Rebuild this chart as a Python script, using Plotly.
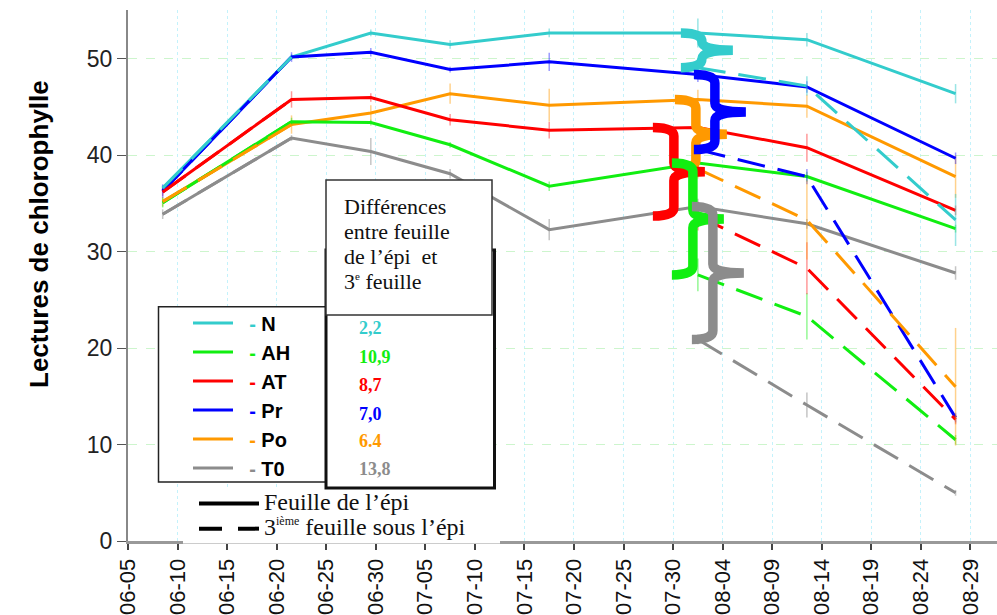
import plotly.graph_objects as go
from datetime import datetime, timedelta

# ---------------- data ----------------
dates = ["2010-06-09", "2010-06-22", "2010-06-30", "2010-07-08",
         "2010-07-18", "2010-08-02", "2010-08-13", "2010-08-28"]
series_names = ["N", "AH", "AT", "Pr", "Po", "T0"]

# Feuille de l'épi (solid)
ear_N = [36.6, 50.2, 52.7, 51.5, 52.7, 52.7, 52.0, 46.4]
ear_AH = [35.1, 43.5, 43.4, 41.1, 36.8, 39.2, 37.8, 32.4]
ear_AT = [36.2, 45.8, 46.0, 43.7, 42.6, 42.9, 40.8, 34.3]
ear_Pr = [36.3, 50.2, 50.7, 48.9, 49.7, 48.4, 47.1, 39.7]
ear_Po = [35.2, 43.2, 44.4, 46.4, 45.2, 45.8, 45.1, 37.8]
ear_T0 = [33.9, 41.8, 40.4, 38.1, 32.3, 34.7, 32.9, 27.8]

# 3ième feuille sous l'épi (dashed)
third_N = [36.6, 50.2, None, None, None, 49.1, 47.2, 33.3]
third_AH = [35.1, 43.5, None, None, None, 27.6, 23.3, 10.5]
third_AT = [36.2, 45.8, None, None, None, 33.7, 28.3, 12.6]
third_Pr = [36.3, 50.2, None, None, None, 40.6, 37.8, 12.8]
third_Po = [35.2, 43.2, None, None, None, 38.6, 33.3, 16.0]
third_T0 = [33.9, 41.8, None, None, None, 20.9, 14.1, 5.0]

# error bars (half-length)
err_ear_N = [0.3, 0.3, 0.35, 0.45, 0.45, 1.5, 0.7, 1.0]
err_ear_AH = [0.5, 0.4, 0.3, 0.3, 0.5, 0.8, 0.5, 0.4]
err_ear_AT = [0.4, 0.85, 0.45, 0.6, 0.85, 0.8, 1.45, 0.5]
err_ear_Pr = [0.7, 0.5, 0.45, 0.3, 0.95, 0.8, 0.6, 0.6]
err_ear_Po = [0.5, 0.95, 0.8, 1.05, 1.7, 1.0, 1.2, 2.2]
err_ear_T0 = [0.5, 0.3, 1.4, 0.5, 1.1, 0.8, 0.5, 0.7]

err_third_N = [0, 0, 0, 0, 0, 1.0, 1.0, 2.7]
err_third_AH = [0, 0, 0, 0, 0, 1.7, 2.4, 0.5]
err_third_AT = [0, 0, 0, 0, 0, 1.5, 2.7, 0.5]
err_third_Pr = [0, 0, 0, 0, 0, 0.8, 0.8, 0.5]
err_third_Po = [0, 0, 0, 0, 0, 1.0, 4.1, 6.1]
err_third_T0 = [0, 0, 0, 0, 0, 0.5, 1.3, 0.3]

diff_labels = ["2,2", "10,9", "8,7", "7,0", "6.4", "13,8"]
box_lines = ["Différences", "entre feuille", "de l\u2019épi\u00a0 et",
             "3<sup><span style='font-size:11px'>e</span></sup> feuille"]

# ---------------- styling ----------------
colors = {"N": "#33CCCC", "AH": "#11EE11", "AT": "#FF0000",
          "Pr": "#0000FF", "Po": "#FF9900", "T0": "#8C8C8C"}
err_colors = {"N": "rgba(51,204,204,0.5)", "AH": "rgba(17,238,17,0.45)",
              "AT": "rgba(255,0,0,0.4)", "Pr": "rgba(0,0,255,0.4)",
              "Po": "rgba(255,153,0,0.45)", "T0": "rgba(140,140,140,0.5)"}

ear = {"N": ear_N, "AH": ear_AH, "AT": ear_AT, "Pr": ear_Pr, "Po": ear_Po, "T0": ear_T0}
third = {"N": third_N, "AH": third_AH, "AT": third_AT, "Pr": third_Pr, "Po": third_Po, "T0": third_T0}
err_ear = {"N": err_ear_N, "AH": err_ear_AH, "AT": err_ear_AT, "Pr": err_ear_Pr, "Po": err_ear_Po, "T0": err_ear_T0}
err_third = {"N": err_third_N, "AH": err_third_AH, "AT": err_third_AT, "Pr": err_third_Pr,
             "Po": err_third_Po, "T0": err_third_T0}

W, H = 997, 615
ML, MR, MT, MB = 128, 0, 10, 74
PW, PH = W - ML - MR, H - MT - MB


def px2x(px):
    return (px - ML) / PW


def py2y(py):
    return (H - MB - py) / PH


fig = go.Figure()

solid_order = ["N", "Po", "AT", "Pr", "AH", "T0"]
for s in solid_order:
    fig.add_trace(go.Scatter(
        x=dates, y=ear[s], mode="lines",
        line=dict(color=colors[s], width=3),
        error_y=dict(type="data", array=err_ear[s], visible=True,
                     color=err_colors[s], thickness=1.5, width=0),
        name=("\u00a0\u00a0<span style='color:%s'><b>-</b></span> <b>%s</b>" % (colors[s], s)),
        legend="legend", legendrank=series_names.index(s) + 1,
    ))

dash_order = ["Pr", "AH", "AT", "T0", "N", "Po"]
for s in dash_order:
    fig.add_trace(go.Scatter(
        x=dates, y=third[s], mode="lines", connectgaps=False,
        line=dict(color=colors[s], width=3, dash="28px,13px"),
        error_y=dict(type="data", array=err_third[s], visible=True,
                     color=err_colors[s], thickness=1.5, width=0),
        showlegend=False,
    ))

# line-style legend (legend2)
fig.add_trace(go.Scatter(x=[None], y=[None], mode="lines",
                         line=dict(color="black", width=4),
                         name="<span style='font-size:24px'>Feuille de l\u2019épi</span>",
                         legend="legend2"))
fig.add_trace(go.Scatter(x=[None], y=[None], mode="lines",
                         line=dict(color="black", width=4, dash="23px,16px"),
                         name=("<span style='font-size:24px'>3<sup><span style='font-size:12px'>ième</span>"
                               "</sup> feuille sous l\u2019épi</span>"),
                         legend="legend2"))

shapes = []
# braces between ear leaf and 3rd leaf at 2nd August
brace_order = ["N", "Po", "Pr", "AT", "AH", "T0"]
brace_dx = {"N": 4, "Po": -2, "Pr": 17, "AT": -24, "AH": -5, "T0": 15}
hook, tip, rr = 21, 31, 0.9
for s in brace_order:
    top = ear[s][5]
    bot = third[s][5]
    m = (top + bot) / 2
    dx = brace_dx[s]
    path = (f"M{dx - hook},{top} Q{dx},{top} {dx},{top - rr} L{dx},{m + rr} "
            f"Q{dx},{m} {dx + tip},{m} Q{dx},{m} {dx},{m - rr} L{dx},{bot + rr} "
            f"Q{dx},{bot} {dx - hook},{bot}")
    shapes.append(dict(type="path", xref="x", yref="y", xsizemode="pixel",
                       xanchor=dates[5], path=path, layer="above",
                       line=dict(color=colors[s], width=9.5)))


def rect(x0, y0, x1, y1, lw, lc="black"):
    return dict(type="rect", xref="paper", yref="paper", layer="above",
                x0=px2x(x0), x1=px2x(x1), y0=py2y(y1), y1=py2y(y0),
                fillcolor="white", line=dict(color=lc, width=lw))


shapes.append(rect(183, 490, 500, 543.5, 0, "white"))
shapes.append(rect(158.5, 306.7, 326, 482, 1.5, "#222"))
shapes.append(rect(326, 250, 494.5, 488, 3, "#111"))
shapes.append(rect(326, 180, 492, 315, 1.5, "#333"))

annotations = []
line_y = [206.5, 231.5, 256.5, 281.5]
for txt, ly in zip(box_lines, line_y):
    annotations.append(dict(
        xref="paper", yref="paper", x=px2x(342), y=py2y(ly), xanchor="left", yanchor="middle",
        align="left", showarrow=False, text=txt,
        font=dict(family="Liberation Serif", size=22, color="#111")))
value_y = [328, 357, 385, 413.5, 441.5, 468.5]
for s, lab, vy in zip(series_names, diff_labels, value_y):
    annotations.append(dict(
        xref="paper", yref="paper", x=px2x(357), y=py2y(vy), xanchor="left", yanchor="middle",
        showarrow=False, text="<b>%s</b>" % lab,
        font=dict(family="Liberation Serif", size=18, color=colors[s])))
annotations.append(dict(
    xref="paper", yref="paper", x=px2x(39), y=py2y(234), xanchor="center", yanchor="middle",
    showarrow=False, textangle=-90, text="<b>Lectures de chlorophylle</b>",
    font=dict(family="Liberation Sans", size=26, color="black")))

x_start = datetime(2010, 6, 5, 12, 0)
px_per_day = 9.911
x_end = x_start + timedelta(days=PW / px_per_day)

fig.update_layout(
    width=W, height=H, margin=dict(l=ML, r=MR, t=MT, b=MB),
    plot_bgcolor="white", paper_bgcolor="white",
    shapes=shapes, annotations=annotations,
    legend=dict(x=px2x(188), y=py2y(303.5), xanchor="left", yanchor="top",
                bgcolor="rgba(0,0,0,0)", borderwidth=0, itemwidth=40, tracegroupgap=0,
                font=dict(family="Liberation Sans", size=20, color="black")),
    legend2=dict(x=px2x(194), y=py2y(486), xanchor="left", yanchor="top",
                 bgcolor="rgba(0,0,0,0)", borderwidth=0, itemwidth=60, tracegroupgap=0,
                 font=dict(family="Liberation Serif", size=17, color="#111")),
    xaxis=dict(type="date", range=[x_start, x_end], tick0="2010-06-05 12:00",
               dtick=5 * 86400000, tickformat="%m-%d", tickangle=-90,
               ticks="outside", ticklen=6, tickcolor="#444", tickwidth=1.5,
               showline=True, linecolor="#999", linewidth=3,
               showgrid=True, gridcolor="#c4f2fb", griddash="dot", gridwidth=1,
               zeroline=False,
               tickfont=dict(family="Liberation Sans", size=22, color="#111")),
    yaxis=dict(range=[0, 55.08], tick0=0, dtick=10, ticks="outside", ticklen=9,
               tickcolor="#555", showline=True, linecolor="#888", linewidth=2,
               showgrid=True, gridcolor="#cdf5cd", griddash="dash", gridwidth=1,
               zeroline=False,
               tickfont=dict(family="Liberation Sans", size=23, color="#222")),
)

fig.write_html("out.html")
